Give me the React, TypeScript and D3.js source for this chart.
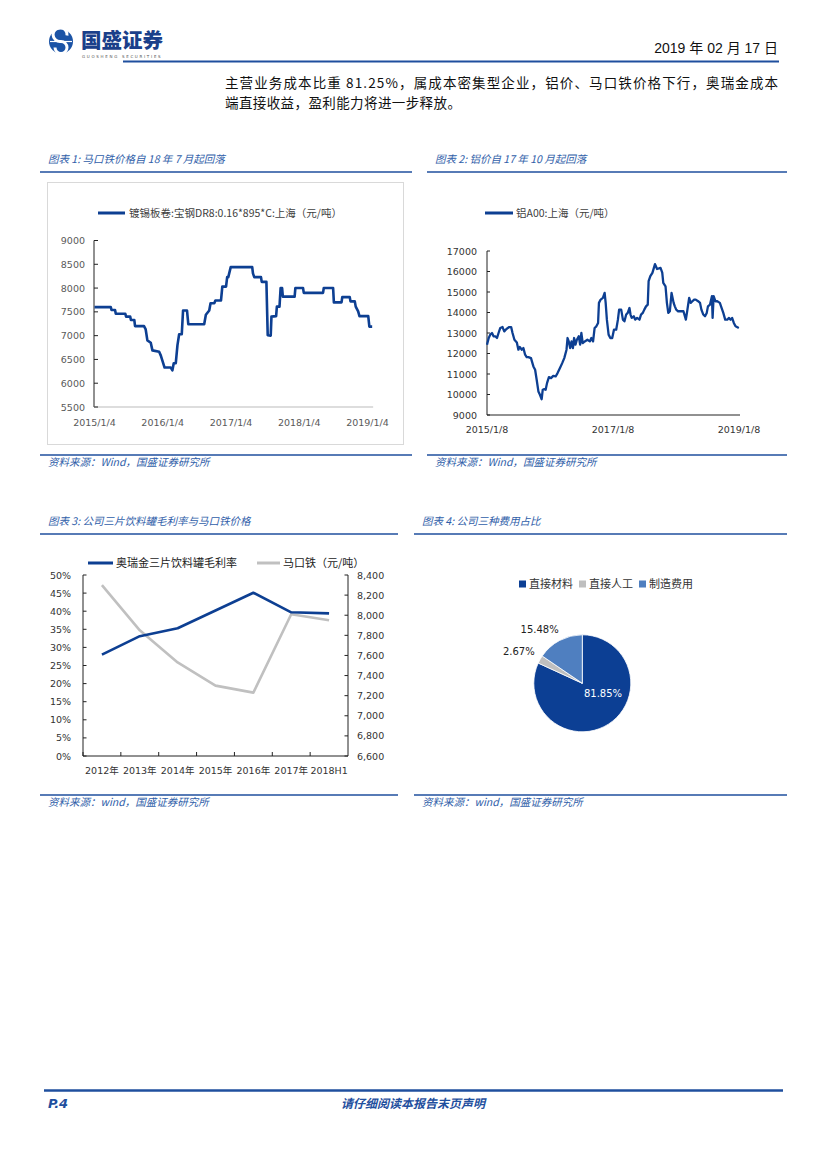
import React from 'react';
import * as d3 from 'd3';

// ---------- DATA ----------
const tinPrice: [string, number][] = [
  ['2015-01-04', 7600], ['2015-04-01', 7600], ['2015-04-05', 7540], ['2015-04-24', 7540],
  ['2015-04-28', 7460], ['2015-06-18', 7460], ['2015-06-22', 7400], ['2015-07-14', 7400],
  ['2015-07-18', 7330], ['2015-08-05', 7330], ['2015-08-09', 7200], ['2015-09-26', 7200],
  ['2015-10-05', 7130], ['2015-10-14', 6900], ['2015-11-01', 6850], ['2015-11-10', 6690],
  ['2015-12-16', 6660], ['2015-12-25', 6580], ['2016-01-14', 6330], ['2016-02-16', 6330],
  ['2016-02-25', 6270], ['2016-03-03', 6420], ['2016-03-14', 6420], ['2016-03-23', 6800],
  ['2016-04-01', 7030], ['2016-04-15', 7030], ['2016-04-22', 7530], ['2016-05-13', 7530],
  ['2016-05-20', 7240], ['2016-08-13', 7240], ['2016-08-22', 7440], ['2016-09-09', 7530],
  ['2016-09-16', 7680], ['2016-10-06', 7680], ['2016-10-12', 7740], ['2016-11-11', 7740],
  ['2016-11-18', 8030], ['2016-12-08', 8030], ['2016-12-14', 8230], ['2016-12-20', 8230],
  ['2017-01-02', 8440], ['2017-04-27', 8440], ['2017-05-01', 8310], ['2017-05-08', 8230],
  ['2017-06-13', 8230], ['2017-06-17', 8130], ['2017-07-12', 8130], ['2017-07-19', 7010],
  ['2017-08-04', 7000], ['2017-08-08', 7400], ['2017-09-02', 7410], ['2017-09-06', 7610],
  ['2017-09-20', 7610], ['2017-09-26', 8000], ['2017-10-04', 8000], ['2017-10-08', 7820],
  ['2017-12-10', 7820], ['2017-12-14', 8000], ['2018-01-24', 8000], ['2018-01-28', 7900],
  ['2018-05-11', 7900], ['2018-05-15', 8000], ['2018-07-04', 8000], ['2018-07-08', 7700],
  ['2018-08-18', 7700], ['2018-08-22', 7810], ['2018-10-01', 7810], ['2018-10-05', 7720],
  ['2018-10-28', 7720], ['2018-11-02', 7610], ['2018-11-15', 7510], ['2018-11-22', 7410],
  ['2019-01-08', 7410], ['2019-01-14', 7190], ['2019-01-29', 7190],
];
const tinYTicks = [5500, 6000, 6500, 7000, 7500, 8000, 8500, 9000];
const tinXTicks = ['2015-01-04', '2016-01-04', '2017-01-04', '2018-01-04', '2019-01-04'];
const tinXLabels = ['2015/1/4', '2016/1/4', '2017/1/4', '2018/1/4', '2019/1/4'];

const alPrice: [string, number][] = [
  ['2015-01-08', 12430], ['2015-01-18', 12755], ['2015-01-27', 12920], ['2015-02-06', 13000],
  ['2015-02-15', 12840], ['2015-02-25', 12840], ['2015-03-07', 12755], ['2015-03-16', 13000],
  ['2015-03-26', 13245], ['2015-04-08', 13290], ['2015-04-18', 13080], ['2015-04-27', 13160],
  ['2015-05-09', 13245], ['2015-05-17', 13290], ['2015-05-28', 13290], ['2015-06-05', 13000],
  ['2015-06-16', 12670], ['2015-06-30', 12540], ['2015-07-09', 12185], ['2015-07-17', 12315],
  ['2015-07-29', 12185], ['2015-08-07', 12265], ['2015-08-17', 11940], ['2015-08-26', 11825],
  ['2015-09-05', 11825], ['2015-09-20', 11775], ['2015-10-04', 11370], ['2015-10-14', 11205],
  ['2015-10-23', 10720], ['2015-11-02', 10150], ['2015-11-11', 9985], ['2015-11-21', 9770],
  ['2015-11-27', 10230], ['2015-12-06', 10260], ['2015-12-14', 10230], ['2015-12-22', 10555],
  ['2016-01-02', 10850], ['2016-01-14', 10800], ['2016-01-27', 10910], ['2016-02-10', 10880],
  ['2016-02-21', 11045], ['2016-03-06', 11290], ['2016-03-19', 11530], ['2016-03-31', 11775],
  ['2016-04-13', 12185], ['2016-04-19', 12755], ['2016-04-26', 12590], ['2016-05-04', 12265],
  ['2016-05-12', 12590], ['2016-05-20', 12265], ['2016-05-27', 12755], ['2016-06-04', 12430],
  ['2016-06-12', 12670], ['2016-06-23', 12840], ['2016-07-01', 12430], ['2016-07-08', 13000],
  ['2016-07-16', 12510], ['2016-07-28', 12590], ['2016-08-12', 12670], ['2016-08-26', 12590],
  ['2016-09-04', 12755], ['2016-09-14', 12590], ['2016-09-23', 13245], ['2016-10-03', 13325],
  ['2016-10-13', 13490], ['2016-10-18', 14470], ['2016-10-28', 14630], ['2016-11-10', 14710],
  ['2016-11-20', 14955], ['2016-11-26', 14470], ['2016-12-03', 13650], ['2016-12-13', 12920],
  ['2016-12-23', 12755], ['2017-01-03', 12755], ['2017-01-13', 13160], ['2017-01-26', 13160],
  ['2017-02-05', 13650], ['2017-02-12', 14140], ['2017-02-24', 14140], ['2017-03-06', 13650],
  ['2017-03-15', 13570], ['2017-03-25', 13900], ['2017-04-03', 13980], ['2017-04-13', 14220],
  ['2017-04-19', 13900], ['2017-04-26', 13735], ['2017-05-08', 13815], ['2017-05-16', 13650],
  ['2017-05-27', 13735], ['2017-06-10', 13650], ['2017-06-19', 13900], ['2017-06-29', 13980],
  ['2017-07-08', 14140], ['2017-07-18', 14300], ['2017-07-28', 14385], ['2017-08-02', 15525],
  ['2017-08-12', 15770], ['2017-08-24', 15935], ['2017-09-08', 16360], ['2017-09-20', 16120],
  ['2017-10-10', 16180], ['2017-10-20', 15950], ['2017-10-26', 15450], ['2017-11-08', 15280],
  ['2017-11-16', 14470], ['2017-11-24', 13980], ['2017-12-03', 14060], ['2017-12-13', 14955],
  ['2017-12-25', 14470], ['2018-01-01', 14300], ['2018-01-09', 14140], ['2018-01-20', 14060],
  ['2018-02-05', 14060], ['2018-02-20', 14060], ['2018-03-06', 13650], ['2018-03-15', 14140],
  ['2018-03-25', 14710], ['2018-04-03', 14470], ['2018-04-13', 14550], ['2018-04-23', 14630],
  ['2018-05-02', 14630], ['2018-05-16', 14550], ['2018-05-27', 14470], ['2018-06-04', 14140],
  ['2018-06-15', 13900], ['2018-06-25', 13815], ['2018-07-05', 13980], ['2018-07-12', 14300],
  ['2018-07-24', 14385], ['2018-08-04', 14795], ['2018-08-08', 13735], ['2018-08-14', 14795],
  ['2018-08-24', 14550], ['2018-09-04', 14550], ['2018-09-19', 14470], ['2018-09-29', 14220],
  ['2018-10-09', 13980], ['2018-10-20', 13650], ['2018-11-01', 13650], ['2018-11-10', 13735],
  ['2018-11-20', 13650], ['2018-11-29', 13735], ['2018-12-09', 13490], ['2018-12-19', 13325],
  ['2019-01-07', 13245],
];
const alYTicks = [9000, 10000, 11000, 12000, 13000, 14000, 15000, 16000, 17000];
const alXTicks = ['2015-01-08', '2017-01-08', '2019-01-08'];
const alXLabels = ['2015/1/8', '2017/1/8', '2019/1/8'];

const years = ['2012年', '2013年', '2014年', '2015年', '2016年', '2017年', '2018H1'];
const grossMargin = [0.28, 0.331, 0.353, 0.402, 0.451, 0.397, 0.394];
const tinplateAvg = [8300, 7850, 7530, 7300, 7230, 8010, 7950];
const marginTicks = [0, 0.05, 0.1, 0.15, 0.2, 0.25, 0.3, 0.35, 0.4, 0.45, 0.5];
const tinTicks = [6600, 6800, 7000, 7200, 7400, 7600, 7800, 8000, 8200, 8400];

const costLabels = ['直接材料', '直接人工', '制造费用'];
const costShares = [81.85, 2.67, 15.48];

// ---------- STYLE ----------
const LINE_BLUE = '#0d3f92';
const TITLE_BLUE = '#2f5ea9';
const RULE_BLUE = '#1f4f9e';
const GRAY_TXT = '#595959';
const CJK = '"Noto Sans CJK SC", "DejaVu Sans", sans-serif';
const NUM = '"DejaVu Sans", "Noto Sans CJK SC", sans-serif';
const parse = d3.timeParse('%Y-%m-%d');

function Section({ x1, x2, titleY, title, source, ruleTop, ruleBottom }: any) {
  return (
    <g>
      <text x={x1 + 8} y={titleY} fontFamily={CJK} fontSize={10.5} fontStyle="italic" fill={TITLE_BLUE}>{title}</text>
      <line x1={x1} x2={x2} y1={ruleTop} y2={ruleTop} stroke={RULE_BLUE} strokeWidth={1.6} />
      <line x1={x1} x2={x2} y1={ruleBottom} y2={ruleBottom} stroke={RULE_BLUE} strokeWidth={1.6} />
      <text x={x1 + 8} y={ruleBottom + 11} fontFamily={CJK} fontSize={10.5} fontStyle="italic" fill={TITLE_BLUE}>{source}</text>
    </g>
  );
}

function Chart1() {
  const x = d3.scaleTime().domain([parse('2015-01-04')!, parse('2019-01-04')!]).range([94.5, 367.5]);
  const y = d3.scaleLinear().domain([5500, 9000]).range([407, 240.5]);
  const line = d3.line<[string, number]>().x(d => x(parse(d[0])!)).y(d => y(d[1]));
  const xEnd = x(parse(tinPrice[tinPrice.length - 1][0])!) + 1;
  return (
    <g>
      <rect x={47.5} y={182.5} width={356} height={262} fill="#fff" stroke="#d9d9d9" strokeWidth={1} />
      <line x1={98} x2={125} y1={213} y2={213} stroke={LINE_BLUE} strokeWidth={3} />
      <text x={129} y={217} fontFamily={CJK} fontSize={10.5} fill="#404040">镀锡板卷:宝钢DR8:0.16*895*C:上海（元/吨）</text>
      <line x1={x.range()[0] - 0.5} x2={x.range()[0] - 0.5} y1={y(9000)} y2={y(5500)} stroke="#222" strokeWidth={1} />
      <line x1={x.range()[0] - 0.5} x2={xEnd} y1={y(5500)} y2={y(5500)} stroke="#bbb" strokeWidth={1} />
      {tinYTicks.map(t => (
        <g key={t}>
          <line x1={94} x2={98} y1={y(t)} y2={y(t)} stroke="#222" />
          <text x={85} y={y(t) + 3.5} textAnchor="end" fontFamily={NUM} fontSize={9.5} fill={GRAY_TXT}>{t}</text>
        </g>
      ))}
      {tinXTicks.map((t, i) => (
        <text key={t} x={x(parse(t)!)} y={426} textAnchor="middle" fontFamily={NUM} fontSize={9.5} fill={GRAY_TXT}>{tinXLabels[i]}</text>
      ))}
      <path d={line(tinPrice)!} fill="none" stroke={LINE_BLUE} strokeWidth={2.6} strokeLinejoin="round" />
    </g>
  );
}

function Chart2() {
  const x = d3.scaleTime().domain([parse('2015-01-08')!, parse('2019-01-08')!]).range([487, 739]);
  const y = d3.scaleLinear().domain([9000, 17000]).range([415, 251]);
  const line = d3.line<[string, number]>().x(d => x(parse(d[0])!)).y(d => y(d[1]));
  return (
    <g>
      <line x1={485} x2={513} y1={213} y2={213} stroke={LINE_BLUE} strokeWidth={3} />
      <text x={516} y={217} fontFamily={CJK} fontSize={10.5} fill="#404040">铝A00:上海（元/吨）</text>
      <line x1={487} x2={487} y1={y(17000)} y2={y(9000)} stroke="#222" />
      <line x1={487} x2={740} y1={y(9000)} y2={y(9000)} stroke="#222" />
      {alYTicks.map(t => (
        <g key={t}>
          <line x1={487} x2={490} y1={y(t)} y2={y(t)} stroke="#222" />
          <text x={477} y={y(t) + 3.5} textAnchor="end" fontFamily={NUM} fontSize={9.5} fill="#333">{t}</text>
        </g>
      ))}
      {alXTicks.map((t, i) => (
        <text key={t} x={x(parse(t)!)} y={433} textAnchor="middle" fontFamily={NUM} fontSize={9.5} fill="#333">{alXLabels[i]}</text>
      ))}
      <path d={line(alPrice)!} fill="none" stroke={LINE_BLUE} strokeWidth={2.3} strokeLinejoin="round" />
    </g>
  );
}

function Chart3() {
  const x = d3.scaleBand().domain(years).range([83, 348]).padding(0);
  const yL = d3.scaleLinear().domain([0, 0.5]).range([756, 575]);
  const yR = d3.scaleLinear().domain([6600, 8400]).range([756, 575]);
  const cx = (i: number) => x(years[i])! + x.bandwidth() / 2;
  const lineL = d3.line<number>().x((_, i) => cx(i)).y(d => yL(d));
  const lineR = d3.line<number>().x((_, i) => cx(i)).y(d => yR(d));
  const pct = d3.format('.0%');
  const comma = d3.format(',');
  return (
    <g>
      <line x1={88} x2={113} y1={563} y2={563} stroke={LINE_BLUE} strokeWidth={3} />
      <text x={116} y={567} fontFamily={CJK} fontSize={11} fill="#222">奥瑞金三片饮料罐毛利率</text>
      <line x1={257} x2={280} y1={563} y2={563} stroke="#c0c0c0" strokeWidth={3} />
      <text x={283} y={567} fontFamily={CJK} fontSize={11} fill="#222">马口铁（元/吨）</text>
      <line x1={83} x2={83} y1={575} y2={756} stroke="#222" />
      <line x1={348} x2={348} y1={575} y2={756} stroke="#222" />
      <line x1={83} x2={348} y1={756} y2={756} stroke="#222" />
      {marginTicks.map(t => (
        <g key={t}>
          <line x1={83} x2={86.5} y1={yL(t)} y2={yL(t)} stroke="#222" />
          <text x={71} y={yL(t) + 3.5} textAnchor="end" fontFamily={NUM} fontSize={9.5} fill="#333">{pct(t)}</text>
        </g>
      ))}
      {tinTicks.map(t => (
        <g key={t}>
          <line x1={344.5} x2={348} y1={yR(t)} y2={yR(t)} stroke="#222" />
          <text x={357} y={yR(t) + 3.5} fontFamily={NUM} fontSize={9.5} fill="#333">{comma(t)}</text>
        </g>
      ))}
      {years.map((yr, i) => (
        <g key={yr}>
          <line x1={x(yr)!} x2={x(yr)!} y1={752} y2={756} stroke="#222" />
          <text x={cx(i)} y={774} textAnchor="middle" fontFamily={NUM} fontSize={9.5} fill="#333">{yr}</text>
        </g>
      ))}
      <path d={lineR(tinplateAvg)!} fill="none" stroke="#c0c0c0" strokeWidth={2.6} strokeLinejoin="round" />
      <path d={lineL(grossMargin)!} fill="none" stroke={LINE_BLUE} strokeWidth={2.6} strokeLinejoin="round" />
    </g>
  );
}

function Chart4() {
  const colors = ['#0c3f94', '#bfbfbf', '#4f7fc0'];
  const cx0 = 582.3, cy0 = 683.3, r = 48.5;
  const pie = d3.pie<number>().sort(null).value(d => d)(costShares);
  const arc = d3.arc<d3.PieArcDatum<number>>().innerRadius(0).outerRadius(r);
  const labelAngleShift = [-0.55, -0.05, -0.18];
  const labelRadius = [23, 71, 69];
  const labelColor = ['#ffffff', '#222', '#222'];
  const legendX = [519, 579, 639];
  return (
    <g>
      {costLabels.map((l, i) => (
        <g key={l}>
          <rect x={legendX[i]} y={580.5} width={7} height={7} fill={colors[i]} />
          <text x={legendX[i] + 10} y={588} fontFamily={CJK} fontSize={11} fill="#333">{l}</text>
        </g>
      ))}
      <g transform={`translate(${cx0},${cy0})`}>
        {pie.map((p, i) => (
          <path key={i} d={arc(p)!} fill={colors[i]} stroke="#fff" strokeWidth={0.8} />
        ))}
        {pie.map((p, i) => {
          const a = (p.startAngle + p.endAngle) / 2 + labelAngleShift[i];
          return (
            <text key={'l' + i} x={Math.sin(a) * labelRadius[i]} y={-Math.cos(a) * labelRadius[i] + 3.5}
              textAnchor="middle" fontFamily={NUM} fontSize={10} fill={labelColor[i]}>
              {costShares[i].toFixed(2)}%
            </text>
          );
        })}
      </g>
    </g>
  );
}

function Header() {
  return (
    <g>
      <circle cx={61} cy={41.5} r={12} fill="#1c54a6" />
      <path d="M 67 35.5 A 7 7 0 1 0 61 41.5 A 6 6 0 1 1 55 47.5" fill="none" stroke="#fff" strokeWidth={3} />
      <line x1={50} x2={72} y1={41.5} y2={41.5} stroke="#fff" strokeWidth={1.2} />
      <text x={81} y={47.5} fontFamily={CJK} fontWeight={900} fontSize={20.5} fill="#1a3f8a">国盛证券</text>
      <text x={82} y={57.5} fontFamily={NUM} fontSize={4} letterSpacing={1.7} fill="#555">GUOSHENG SECURITIES</text>
      <text x={778} y={53} textAnchor="end" fontFamily={'"Liberation Sans", "Noto Sans CJK SC", sans-serif'} fontSize={14} fill="#111">2019 年 02 月 17 日</text>
      <line x1={123} x2={779} y1={61.5} y2={61.5} stroke={RULE_BLUE} strokeWidth={2.2} />
      <text x={225} y={88} fontFamily={CJK} fontSize={13.5} fill="#111" textLength={553} lengthAdjust="spacing">主营业务成本比重 81.25%，属成本密集型企业，铝价、马口铁价格下行，奥瑞金成本</text>
      <text x={225} y={108} fontFamily={CJK} fontSize={13.5} fill="#111" letterSpacing={0.4}>端直接收益，盈利能力将进一步释放。</text>
    </g>
  );
}

function Footer() {
  return (
    <g>
      <line x1={44} x2={783} y1={1090.5} y2={1090.5} stroke={RULE_BLUE} strokeWidth={2.4} />
      <text x={48} y={1108} fontFamily={NUM} fontWeight="bold" fontStyle="italic" fontSize={13} fill={RULE_BLUE}>P.4</text>
      <text x={413} y={1108} textAnchor="middle" fontFamily={CJK} fontWeight="bold" fontStyle="italic" fontSize={12} fill={RULE_BLUE}>请仔细阅读本报告末页声明</text>
    </g>
  );
}

export default function App() {
  return (
    <svg width={827} height={1169} viewBox="0 0 827 1169" style={{ position: 'absolute', left: 0, top: 0, background: '#fff' }}>
      <rect x={0} y={0} width={827} height={1169} fill="#fff" />
      <Header />
      <Section x1={40} x2={412} titleY={163} ruleTop={172} ruleBottom={455} title="图表 1:  马口铁价格自 18 年 7 月起回落" source="资料来源：Wind，国盛证券研究所" />
      <Section x1={427} x2={787} titleY={163} ruleTop={172} ruleBottom={455} title="图表 2:  铝价自 17 年 10 月起回落" source="资料来源：Wind，国盛证券研究所" />
      <Section x1={40} x2={398} titleY={525} ruleTop={534} ruleBottom={795} title="图表 3:  公司三片饮料罐毛利率与马口铁价格" source="资料来源：wind，国盛证券研究所" />
      <Section x1={414} x2={787} titleY={525} ruleTop={534} ruleBottom={795} title="图表 4:  公司三种费用占比" source="资料来源：wind，国盛证券研究所" />
      <Chart1 />
      <Chart2 />
      <Chart3 />
      <Chart4 />
      <Footer />
    </svg>
  );
}
